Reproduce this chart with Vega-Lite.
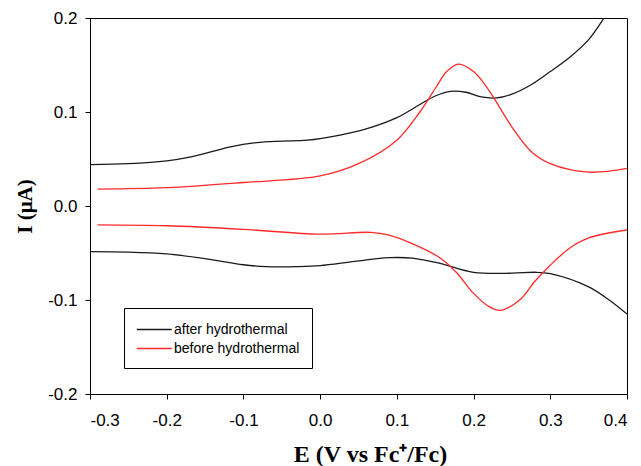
{
  "$schema": "https://vega.github.io/schema/vega-lite/v6.json",
  "width": 537,
  "height": 376,
  "autosize": {"type": "none"},
  "padding": {"left": 90, "top": 18, "right": 14, "bottom": 72},
  "background": "white",
  "config": {
    "view": {"stroke": "#000000", "strokeWidth": 1},
    "axis": {
      "domainColor": "#000000",
      "tickColor": "#000000",
      "grid": false,
      "labelFont": "Liberation Sans",
      "labelFontSize": 17,
      "labelColor": "#000000",
      "tickSize": 5,
      "titleFont": "Liberation Serif",
      "titleFontWeight": "bold",
      "titleColor": "#000000"
    }
  },
  "data": {
    "values": [
      {"series": "after hydrothermal", "seg": "a1", "E": -0.3, "I": 0.044},
      {"series": "after hydrothermal", "seg": "a1", "E": -0.25, "I": 0.045},
      {"series": "after hydrothermal", "seg": "a1", "E": -0.2, "I": 0.048},
      {"series": "after hydrothermal", "seg": "a1", "E": -0.17, "I": 0.052},
      {"series": "after hydrothermal", "seg": "a1", "E": -0.14, "I": 0.058},
      {"series": "after hydrothermal", "seg": "a1", "E": -0.117, "I": 0.063},
      {"series": "after hydrothermal", "seg": "a1", "E": -0.083, "I": 0.0674},
      {"series": "after hydrothermal", "seg": "a1", "E": -0.05, "I": 0.069},
      {"series": "after hydrothermal", "seg": "a1", "E": -0.017, "I": 0.07},
      {"series": "after hydrothermal", "seg": "a1", "E": 0.026, "I": 0.0755},
      {"series": "after hydrothermal", "seg": "a1", "E": 0.06, "I": 0.082},
      {"series": "after hydrothermal", "seg": "a1", "E": 0.1, "I": 0.094},
      {"series": "after hydrothermal", "seg": "a1", "E": 0.13, "I": 0.108},
      {"series": "after hydrothermal", "seg": "a1", "E": 0.15, "I": 0.117},
      {"series": "after hydrothermal", "seg": "a1", "E": 0.17, "I": 0.122},
      {"series": "after hydrothermal", "seg": "a1", "E": 0.19, "I": 0.121},
      {"series": "after hydrothermal", "seg": "a1", "E": 0.21, "I": 0.116},
      {"series": "after hydrothermal", "seg": "a1", "E": 0.23, "I": 0.115},
      {"series": "after hydrothermal", "seg": "a1", "E": 0.25, "I": 0.119},
      {"series": "after hydrothermal", "seg": "a1", "E": 0.275, "I": 0.129},
      {"series": "after hydrothermal", "seg": "a1", "E": 0.3, "I": 0.143},
      {"series": "after hydrothermal", "seg": "a1", "E": 0.325, "I": 0.158},
      {"series": "after hydrothermal", "seg": "a1", "E": 0.35, "I": 0.177},
      {"series": "after hydrothermal", "seg": "a1", "E": 0.37, "I": 0.2},
      {"series": "after hydrothermal", "seg": "a1", "E": 0.38, "I": 0.213},
      {"series": "after hydrothermal", "seg": "a2", "E": -0.3, "I": -0.0485},
      {"series": "after hydrothermal", "seg": "a2", "E": -0.25, "I": -0.049},
      {"series": "after hydrothermal", "seg": "a2", "E": -0.2, "I": -0.051},
      {"series": "after hydrothermal", "seg": "a2", "E": -0.15, "I": -0.056},
      {"series": "after hydrothermal", "seg": "a2", "E": -0.1, "I": -0.0625},
      {"series": "after hydrothermal", "seg": "a2", "E": -0.07, "I": -0.0645},
      {"series": "after hydrothermal", "seg": "a2", "E": -0.03, "I": -0.0645},
      {"series": "after hydrothermal", "seg": "a2", "E": 0.0, "I": -0.0635},
      {"series": "after hydrothermal", "seg": "a2", "E": 0.045, "I": -0.059},
      {"series": "after hydrothermal", "seg": "a2", "E": 0.09, "I": -0.055},
      {"series": "after hydrothermal", "seg": "a2", "E": 0.12, "I": -0.0555},
      {"series": "after hydrothermal", "seg": "a2", "E": 0.156, "I": -0.061},
      {"series": "after hydrothermal", "seg": "a2", "E": 0.2, "I": -0.0705},
      {"series": "after hydrothermal", "seg": "a2", "E": 0.25, "I": -0.0715},
      {"series": "after hydrothermal", "seg": "a2", "E": 0.28, "I": -0.0705},
      {"series": "after hydrothermal", "seg": "a2", "E": 0.3, "I": -0.072},
      {"series": "after hydrothermal", "seg": "a2", "E": 0.35, "I": -0.086},
      {"series": "after hydrothermal", "seg": "a2", "E": 0.375, "I": -0.099},
      {"series": "after hydrothermal", "seg": "a2", "E": 0.4, "I": -0.115},
      {"series": "before hydrothermal", "seg": "b1", "E": -0.29, "I": 0.018},
      {"series": "before hydrothermal", "seg": "b1", "E": -0.2, "I": 0.0195},
      {"series": "before hydrothermal", "seg": "b1", "E": -0.1, "I": 0.025},
      {"series": "before hydrothermal", "seg": "b1", "E": 0.0, "I": 0.032},
      {"series": "before hydrothermal", "seg": "b1", "E": 0.05, "I": 0.045},
      {"series": "before hydrothermal", "seg": "b1", "E": 0.1, "I": 0.07},
      {"series": "before hydrothermal", "seg": "b1", "E": 0.13, "I": 0.1},
      {"series": "before hydrothermal", "seg": "b1", "E": 0.15, "I": 0.125},
      {"series": "before hydrothermal", "seg": "b1", "E": 0.165, "I": 0.143},
      {"series": "before hydrothermal", "seg": "b1", "E": 0.18, "I": 0.151},
      {"series": "before hydrothermal", "seg": "b1", "E": 0.2, "I": 0.143},
      {"series": "before hydrothermal", "seg": "b1", "E": 0.22, "I": 0.123},
      {"series": "before hydrothermal", "seg": "b1", "E": 0.25, "I": 0.084},
      {"series": "before hydrothermal", "seg": "b1", "E": 0.275, "I": 0.058},
      {"series": "before hydrothermal", "seg": "b1", "E": 0.3, "I": 0.045},
      {"series": "before hydrothermal", "seg": "b1", "E": 0.35, "I": 0.036},
      {"series": "before hydrothermal", "seg": "b1", "E": 0.4, "I": 0.04},
      {"series": "before hydrothermal", "seg": "b2", "E": -0.29, "I": -0.02},
      {"series": "before hydrothermal", "seg": "b2", "E": -0.2, "I": -0.021},
      {"series": "before hydrothermal", "seg": "b2", "E": -0.1, "I": -0.0248},
      {"series": "before hydrothermal", "seg": "b2", "E": 0.0, "I": -0.03},
      {"series": "before hydrothermal", "seg": "b2", "E": 0.066, "I": -0.028},
      {"series": "before hydrothermal", "seg": "b2", "E": 0.09, "I": -0.031},
      {"series": "before hydrothermal", "seg": "b2", "E": 0.12, "I": -0.04},
      {"series": "before hydrothermal", "seg": "b2", "E": 0.156, "I": -0.055},
      {"series": "before hydrothermal", "seg": "b2", "E": 0.178, "I": -0.071},
      {"series": "before hydrothermal", "seg": "b2", "E": 0.2, "I": -0.093},
      {"series": "before hydrothermal", "seg": "b2", "E": 0.22, "I": -0.107},
      {"series": "before hydrothermal", "seg": "b2", "E": 0.235, "I": -0.111},
      {"series": "before hydrothermal", "seg": "b2", "E": 0.26, "I": -0.1},
      {"series": "before hydrothermal", "seg": "b2", "E": 0.28, "I": -0.08},
      {"series": "before hydrothermal", "seg": "b2", "E": 0.3, "I": -0.063},
      {"series": "before hydrothermal", "seg": "b2", "E": 0.325, "I": -0.045},
      {"series": "before hydrothermal", "seg": "b2", "E": 0.35, "I": -0.034},
      {"series": "before hydrothermal", "seg": "b2", "E": 0.4, "I": -0.0255}
    ]
  },
  "mark": {"type": "line", "interpolate": "catmull-rom", "strokeWidth": 1.3, "clip": true},
  "encoding": {
    "x": {
      "field": "E", "type": "quantitative",
      "scale": {"domain": [-0.3, 0.4], "nice": false, "zero": false},
      "axis": {"values": [-0.3, -0.2, -0.1, 0, 0.1, 0.2, 0.3, 0.4], "labelExpr": "replace(format(datum.value, '.1f'), '\u2212', '-')", "labelPadding": 13, "title": "E (V vs Fc⁺/Fc)", "titleFontSize": 24, "titlePadding": 14, "titleX": 280}
    },
    "y": {
      "field": "I", "type": "quantitative",
      "scale": {"domain": [-0.2, 0.2], "nice": false, "zero": false},
      "axis": {"values": [-0.2, -0.1, 0, 0.1, 0.2], "labelExpr": "replace(format(datum.value, '.1f'), '\u2212', '-')", "labelPadding": 8, "title": "I (μA)", "titleFontSize": 21, "titlePadding": 12}
    },
    "color": {
      "field": "series", "type": "nominal",
      "scale": {"domain": ["after hydrothermal", "before hydrothermal"], "range": ["#1a1a1a", "#ff2a2a"]},
      "legend": {
        "orient": "none", "legendX": 34, "legendY": 290, "title": null,
        "symbolType": "M-1,0H3", "symbolSize": 306, "symbolStrokeWidth": 1.3,
        "labelFont": "Liberation Sans", "labelFontSize": 14, "labelColor": "#000000", "labelOffset": 19,
        "padding": 12, "rowPadding": 2, "strokeColor": "#000000", "fillColor": "white"
      }
    },
    "detail": {"field": "seg", "type": "nominal"}
  }
}
